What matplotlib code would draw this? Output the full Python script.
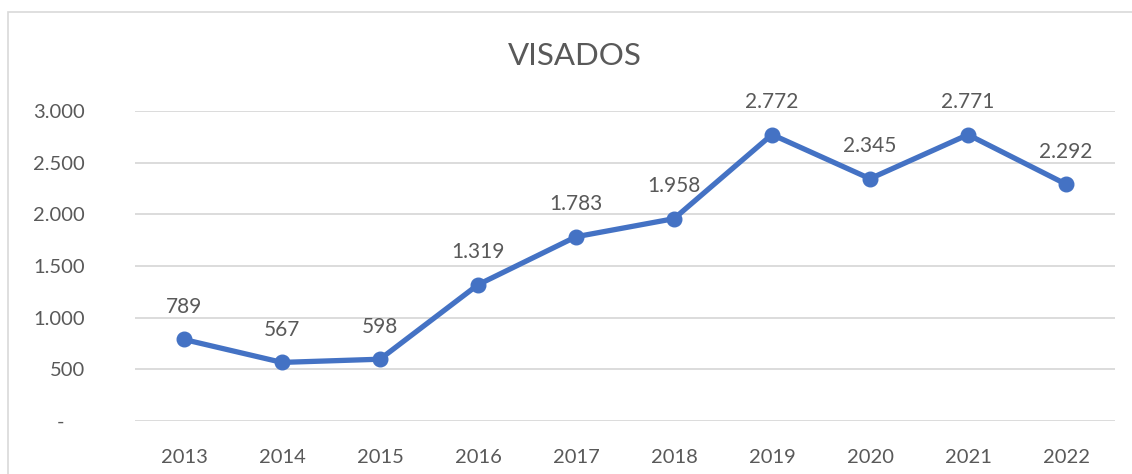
import matplotlib.pyplot as plt
from matplotlib.patches import Rectangle

# datos del grafico
years = ["2013", "2014", "2015", "2016", "2017", "2018", "2019", "2020", "2021", "2022"]
visados = [789, 567, 598, 1319, 1783, 1958, 2772, 2345, 2771, 2292]
yticks = [0, 500, 1000, 1500, 2000, 2500, 3000]

gray = "#595959"
blue = "#4472C4"

plt.rcParams["font.family"] = ["Lato", "DejaVu Sans"]


def miles(v):
    if v == 0:
        return "-    "
    return f"{v:,}".replace(",", ".")


fig = plt.figure(figsize=(11.32, 4.74), dpi=100)
ax = fig.add_axes([135 / 1132, 1 - 421 / 474, 980 / 1132, 310 / 474])

# borde del area del grafico
fig.patches.append(Rectangle((8 / 1132, -0.1), 1.2, 0.1 + 1 - 12 / 474,
                             transform=fig.transFigure, fill=False,
                             edgecolor="#d9d9d9", linewidth=1.2))

x = list(range(len(years)))
ax.plot(x, visados, color=blue, linewidth=3.8, marker="o", markersize=10.5,
        solid_capstyle="round", zorder=3)

for xi, v in zip(x, visados):
    ax.annotate(miles(v), (xi, v), xytext=(0, 23.5), textcoords="offset points",
                ha="center", va="center", fontsize=15, color=gray)

ax.set_xlim(-0.5, len(years) - 0.5)
ax.set_ylim(0, 3000)
ax.set_xticks(x)
ax.set_xticklabels(years)
ax.set_yticks(yticks)
ax.set_yticklabels([miles(v) for v in yticks])
ax.tick_params(axis="both", length=0, labelsize=14.5, colors=gray)
ax.tick_params(axis="x", pad=20)
ax.tick_params(axis="y", pad=36)
ax.grid(axis="y", color="#d9d9d9", linewidth=1.3)
ax.set_axisbelow(True)
for s in ax.spines.values():
    s.set_visible(False)

fig.text(575 / 1132, 1 - 56 / 474, "VISADOS", ha="center", va="center",
         fontsize=22.5, color=gray)

fig.savefig("out.png", dpi=100)
